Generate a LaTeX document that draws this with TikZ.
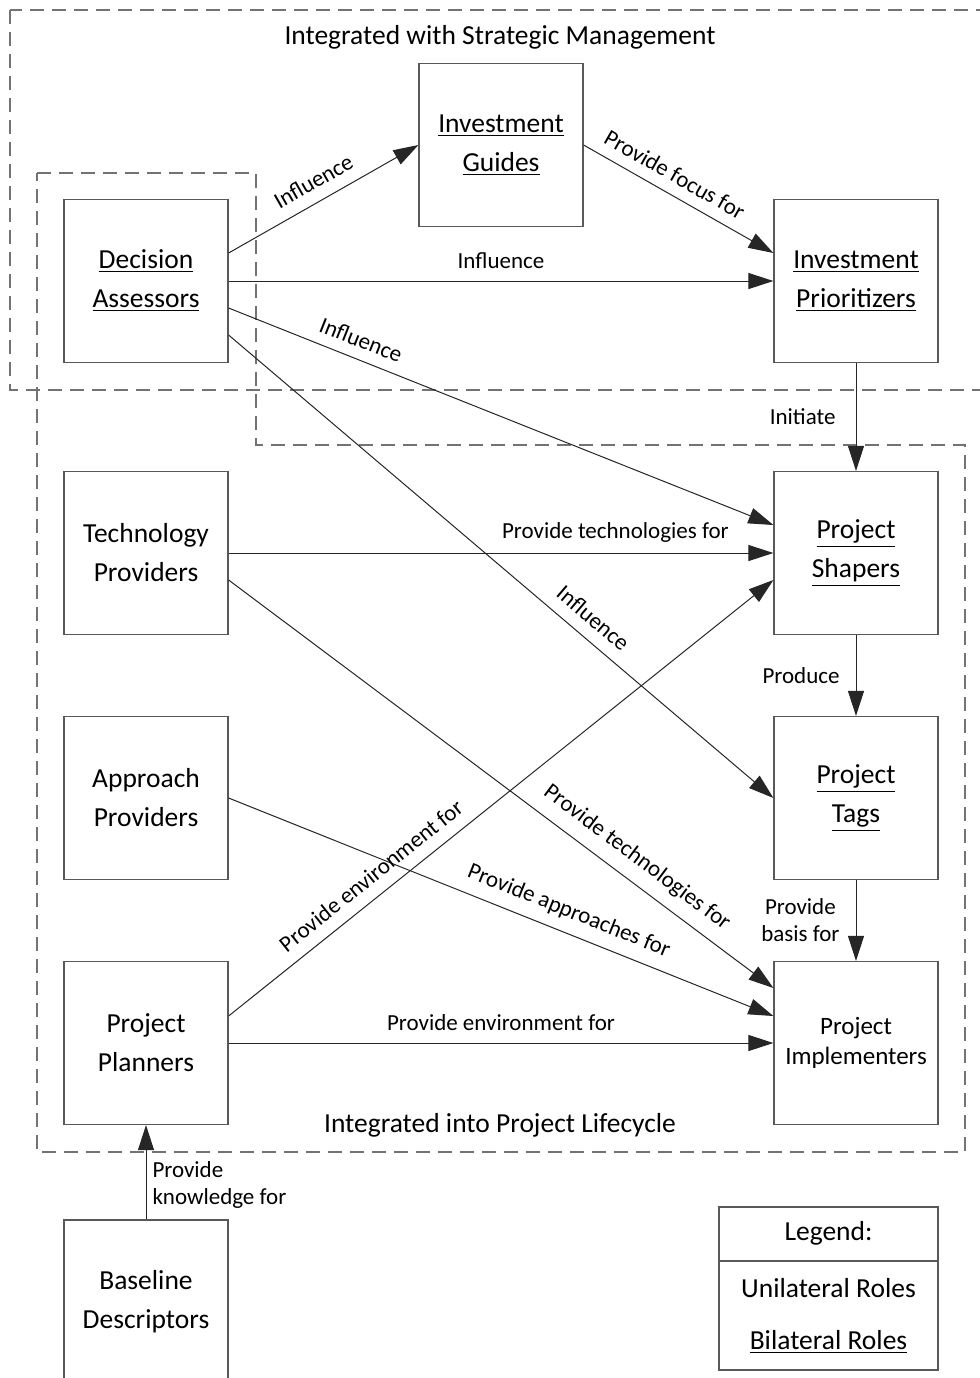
\documentclass[tikz,border=0pt]{standalone}
\usepackage{fontspec}
\setmainfont{Carlito}
\usetikzlibrary{arrows.meta,calc}
\begin{document}
\begin{tikzpicture}[x=0.5pt,y=-0.5pt,
 role/.style={draw=black!65, line width=0.6pt, minimum width=82pt, minimum height=81.5pt, inner sep=0pt, align=center, font=\fontsize{13.75}{19.5}\selectfont},
 conn/.style={draw=black!85, line width=0.5pt, -{Triangle[length=12.5pt,width=8pt]}},
 lbl/.style={font=\fontsize{11.5}{13.5}\selectfont, inner sep=1pt, text=black},
 region/.style={draw=black!55, line width=0.7pt, dash pattern=on 7pt off 4pt},
 title/.style={font=\fontsize{13.75}{16}\selectfont, inner sep=1pt}]
\fill[white] (0,0) rectangle (980,1378);
\clip (0,0) rectangle (980,1378);
% regions
\draw[region] (10,10) rectangle (1000,390);
\draw[region] (37,173) -- (256,173) -- (256,445) -- (965,445) -- (965,1152) -- (37,1152) -- cycle;
\node[title] (t1) at (500,37) {Integrated with Strategic Management};
\node[title] (t2) at (500,1125) {Integrated into Project Lifecycle};
% roles
\node[role] (da) at (146,281) {\underline{Decision}\\\underline{Assessors}};
\node[role] (ig) at (501,145) {\underline{Investment}\\\underline{Guides}};
\node[role] (ip) at (856,281) {\underline{Investment}\\\underline{Prioritizers}};
\node[role] (tp) at (146,553) {Technology\\Providers};
\node[role] (ps) at (856,553) {\underline{Project}\\\underline{Shapers}};
\node[role] (ap) at (146,798) {Approach\\Providers};
\node[role] (pt) at (856,798) {\underline{Project}\\\underline{Tags}};
\node[role] (pp) at (146,1043) {Project\\Planners};
\node[role, font=\fontsize{12.5}{15}\selectfont] (pi) at (856,1043) {Project\\Implementers};
\node[role] (bd) at (146,1301.5) {Baseline\\Descriptors};
% legend
\node[draw=black!65, line width=0.6pt, minimum width=109.5pt, minimum height=81.5pt, inner sep=0pt] (lg) at (828.5,1288.5) {};
\coordinate (lgdl) at (719,1261);
\coordinate (lgdr) at (938,1261);
\draw[black!65, line width=0.6pt] (lgdl) -- (lgdr);
\node[title] (lgt) at (828.5,1233) {Legend:};
\node[title] (lgu) at (828.5,1288) {Unilateral Roles};
\node[title] (lgb) at (828.5,1342) {\underline{Bilateral Roles}};
% connectors
\draw[conn] ($(da.east)+(0,-28)$) -- node[lbl,sloped,above=5pt,pos=0.5]{Influence} (ig.west);
\draw[conn] (da.east) -- node[lbl,above=5pt,pos=0.5]{Influence} (ip.west);
\draw[conn] (ig.east) -- node[lbl,sloped,above=4.5pt,pos=0.43]{Provide focus for} ($(ip.west)+(0,-28)$);
\draw[conn] ($(da.east)+(0,27)$) -- node[lbl,sloped,above=4.5pt,pos=0.23]{Influence} ($(ps.west)+(0,-28)$);
\draw[conn] ($(da.east)+(0,54)$) -- node[lbl,sloped,above=5pt,pos=0.645]{Influence} (pt.west);
\draw[conn] (ip.south) -- node[lbl,left=9pt,pos=0.5]{Initiate} (ps.north);
\draw[conn] (tp.east) -- node[lbl,above=4pt,pos=0.71]{Provide technologies for} (ps.west);
\draw[conn] ($(tp.east)+(0,27)$) -- node[lbl,sloped,above=5pt,pos=0.725]{Provide technologies for} ($(pi.west)+(0,-55)$);
\draw[conn] (ps.south) -- node[lbl,left=7pt,pos=0.5]{Produce} (pt.north);
\draw[conn] (ap.east) -- node[lbl,sloped,above=4.5pt,pos=0.61]{Provide approaches for} ($(pi.west)+(0,-27)$);
\draw[conn] ($(pp.east)+(0,-27)$) -- node[lbl,sloped,above=5pt,pos=0.285]{Provide environment for} ($(ps.west)+(0,27)$);
\draw[conn] (pp.east) -- node[lbl,above=5pt,pos=0.5]{Provide environment for} (pi.west);
\draw[conn] (pt.south) -- node[lbl,left=7pt,align=center,pos=0.5]{Provide\\basis for} (pi.north);
\draw[conn] (bd.north) -- node[lbl,right=2pt,align=left,pos=0.37]{Provide\\knowledge for} (pp.south);
\end{tikzpicture}
\end{document}
